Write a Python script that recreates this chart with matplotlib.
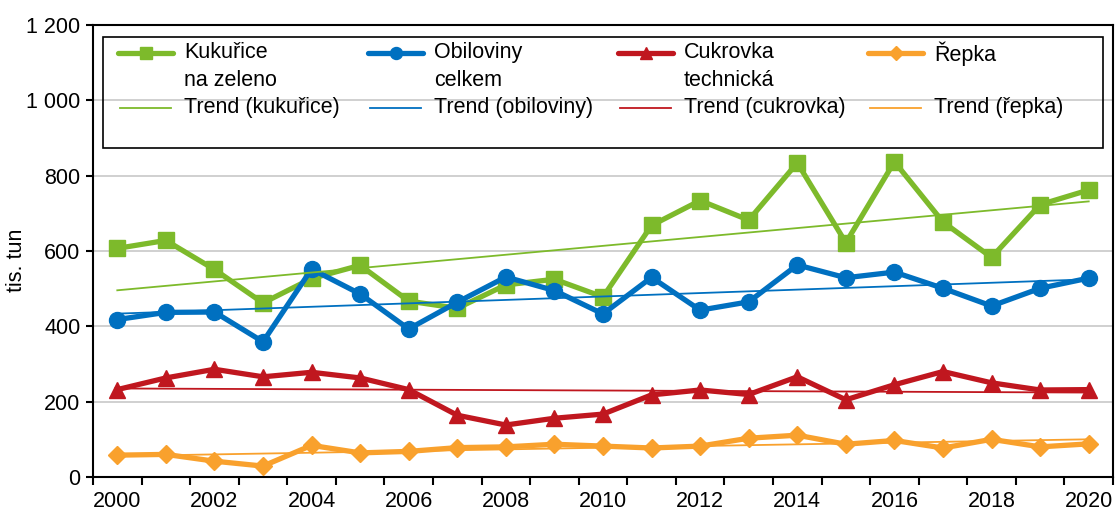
import numpy as np
import matplotlib
matplotlib.use("Agg")
import matplotlib.pyplot as plt
from matplotlib.lines import Line2D
from matplotlib.patches import Rectangle
from matplotlib.ticker import FixedLocator, FuncFormatter

plt.rcParams["font.family"] = ["Liberation Sans", "DejaVu Sans"]
plt.rcParams["font.size"] = 15.5

years = list(range(2000, 2021))
kukurice = [607, 628, 551, 462, 527, 562, 467, 448, 510, 525, 478, 668, 734, 682, 834, 622, 837, 677, 583, 723, 762]
obiloviny = [418, 437, 438, 359, 552, 486, 393, 464, 531, 495, 433, 530, 443, 465, 563, 529, 544, 501, 454, 501, 528]
cukrovka = [232, 263, 286, 266, 278, 263, 232, 164, 138, 156, 167, 218, 231, 219, 266, 205, 245, 280, 250, 231, 232]
repka = [58, 60, 42, 29, 84, 64, 68, 78, 80, 87, 82, 77, 82, 103, 111, 87, 97, 77, 100, 80, 88]

labels = ["Kukuřice\nna zeleno", "Obiloviny\ncelkem", "Cukrovka\ntechnická", "Řepka"]
trend_labels = ["Trend (kukuřice)", "Trend (obiloviny)", "Trend (cukrovka)", "Trend (řepka)"]
colors = ["#7DBA2B", "#0070C0", "#C0171F", "#F9A12D"]
markers = ["s", "o", "^", "D"]
msizes = [11, 11.5, 11, 9]

W, H = 1116, 511
fig = plt.figure(figsize=(W / 100, H / 100), dpi=100)
ax = fig.add_axes([93 / W, 1 - 477 / H, (1113 - 93) / W, (477 - 25) / H])

x = np.arange(len(years))
series = [kukurice, obiloviny, cukrovka, repka]
for vals, c, m, ms in zip(series, colors, markers, msizes):
    ax.plot(x, vals, color=c, lw=3.8, marker=m, ms=ms, mec=c, mfc=c, zorder=3)
# linear trendlines like in Excel
for vals, c in zip(series, colors):
    k, q = np.polyfit(x, vals, 1)
    ax.plot(x, k * x + q, color=c, lw=1.3, zorder=4)

ax.set_xlim(-0.5, len(years) - 0.5)
ax.set_ylim(0, 1200)
ax.set_yticks(range(0, 1201, 200))
ax.yaxis.set_major_formatter(FuncFormatter(lambda v, p: f"{int(v):,}".replace(",", " ")))
ax.grid(axis="y", color="#c8c8c8", lw=1.2, zorder=0)
ax.set_axisbelow(True)

ax.set_xticks(x[::2])
ax.set_xticklabels([str(y) for y in years[::2]])
ax.xaxis.set_minor_locator(FixedLocator(np.arange(-0.5, len(years), 1)))
ax.tick_params(axis="x", which="major", length=0, pad=10)
ax.tick_params(axis="x", which="minor", length=6, width=1.5, direction="out")
ax.tick_params(axis="y", length=5, width=1.5, pad=4)
for s in ax.spines.values():
    s.set_color("black")
    s.set_linewidth(1.5)

ax.set_ylabel("tis. tun")
ax.yaxis.set_label_coords(-0.065, 0.48)

# legend drawn by hand so the columns have equal width like the original
def fx(px):
    return px / W

def fy(py):
    return 1 - py / H

fig.patches.append(Rectangle((fx(103), fy(148)), fx(1103) - fx(103), fy(37) - fy(148),
                             transform=fig.transFigure, fill=False, ec="black", lw=1.2, zorder=10))
for i in range(4):
    x0 = 118 + 250 * i
    fig.add_artist(Line2D([fx(x0), fx(x0 + 55)], [fy(53), fy(53)], color=colors[i], lw=3.8,
                          solid_capstyle="round"))
    fig.add_artist(Line2D([fx(x0 + 27.5)], [fy(53)], color=colors[i], marker=markers[i],
                          ms=msizes[i] * 0.75, mec=colors[i]))
    fig.text(fx(x0 + 66), fy(42), labels[i], ha="left", va="top", linespacing=1.45)
    fig.add_artist(Line2D([fx(x0 + 2), fx(x0 + 53)], [fy(108), fy(108)], color=colors[i], lw=1.3))
    fig.text(fx(x0 + 66), fy(108), trend_labels[i], ha="left", va="center")

fig.savefig("out.png", dpi=100)
